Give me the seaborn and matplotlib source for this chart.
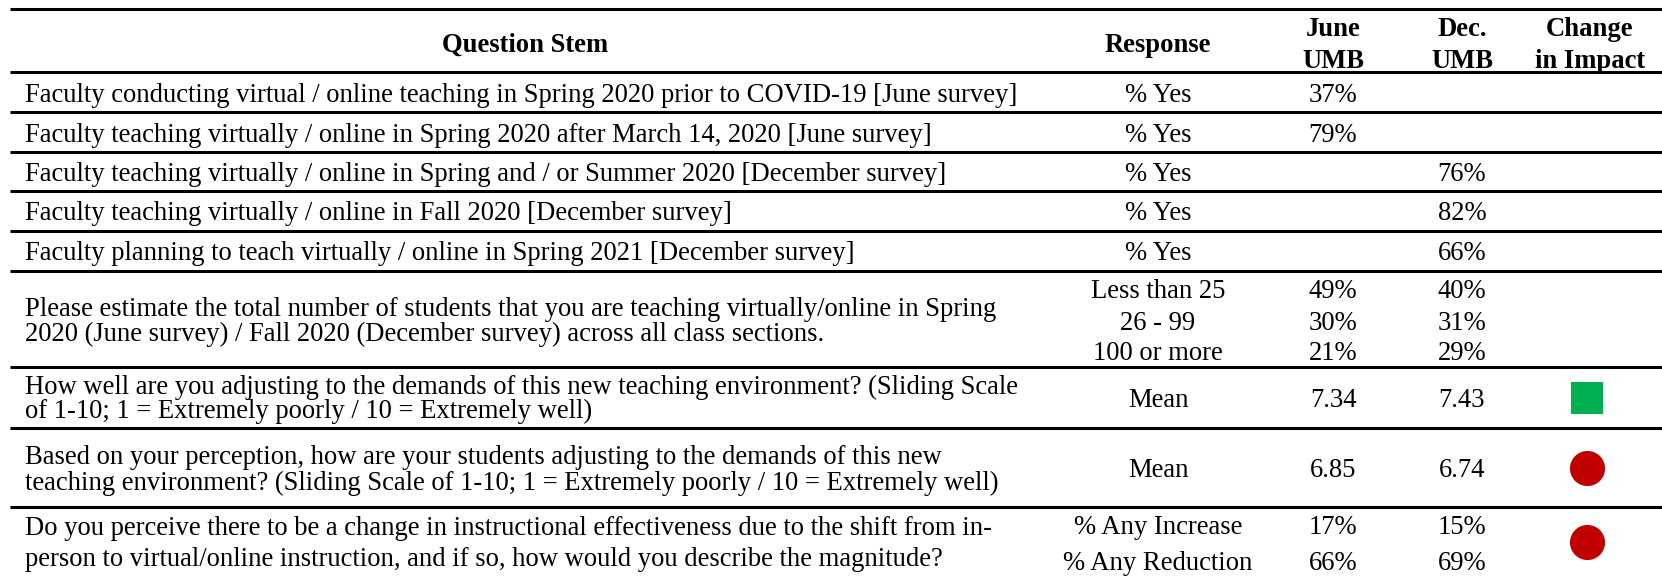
import numpy as np
import pandas as pd
import matplotlib.pyplot as plt
import seaborn as sns

# ! Datos de la tabla -------------------------------------------------------

headers = ["Question Stem", "Response", "June\nUMB", "Dec.\nUMB", "Change\nin Impact"]

questions = [
    "Faculty conducting virtual / online teaching in Spring 2020 prior to COVID-19 [June survey]",
    "Faculty teaching virtually / online in Spring 2020 after March 14, 2020 [June survey]",
    "Faculty teaching virtually / online in Spring and / or Summer 2020 [December survey]",
    "Faculty teaching virtually / online in Fall 2020 [December survey]",
    "Faculty planning to teach virtually / online in Spring 2021 [December survey]",
    "Please estimate the total number of students that you are teaching virtually/online in Spring\n"
    "2020 (June survey) / Fall 2020 (December survey) across all class sections.",
    "How well are you adjusting to the demands of this new teaching environment? (Sliding Scale\n"
    "of 1-10; 1 = Extremely poorly / 10 = Extremely well)",
    "Based on your perception, how are your students adjusting to the demands of this new\n"
    "teaching environment? (Sliding Scale of 1-10; 1 = Extremely poorly / 10 = Extremely well)",
    "Do you perceive there to be a change in instructional effectiveness due to the shift from in-\n"
    "person to virtual/online instruction, and if so, how would you describe the magnitude?",
]

responses = [
    ["% Yes"], ["% Yes"], ["% Yes"], ["% Yes"], ["% Yes"],
    ["Less than 25", "26 - 99", "100 or more"],
    ["Mean"], ["Mean"],
    ["% Any Increase", "% Any Reduction"],
]

june_umb = [
    ["37%"], ["79%"], [""], [""], [""],
    ["49%", "30%", "21%"],
    ["7.34"], ["6.85"],
    ["17%", "66%"],
]

dec_umb = [
    [""], [""], ["76%"], ["82%"], ["66%"],
    ["40%", "31%", "29%"],
    ["7.43"], ["6.74"],
    ["15%", "69%"],
]

# cambio en el impacto: "up" = mejora, "down" = empeora
change = [None, None, None, None, None, None, "up", "down", "down"]

# ! Layout ------------------------------------------------------------------

W, H = 1662, 578
row_edges = [72, 112, 152, 191, 231, 271, 367, 428, 507, 578]
row_mid = [(a + b) / 2 for a, b in zip(row_edges[:-1], row_edges[1:])]
row_mid[5] = 320
row_mid[8] = 542
x_q, x_qhead, x_resp, x_june, x_dec, x_chg = 25, 525, 1158, 1333, 1462, 1590
x_mark = 1587

resp_gap = {5: 31, 8: 36}
q_gap = {5: 25, 6: 24, 7: 25, 8: 31}
q_mid = {5: 319, 6: 396, 8: 541}

sns.set_theme(style="white")
plt.rcParams['font.family'] = ['Liberation Serif', 'DejaVu Serif']

fig = plt.figure(figsize=(W / 100, H / 100), dpi=100)
ax = fig.add_axes([0, 0, 1, 1])
ax.set_xlim(0, W)
ax.set_ylim(H, 0)
ax.axis("off")

fs = 19.2


def lines_at(x, yc, items, gap, ha="center", **kw):
    n = len(items)
    for i, t in enumerate(items):
        y = yc + (i - (n - 1) / 2) * gap
        ax.text(x, y, t, ha=ha, va="center_baseline", fontsize=fs,
                color="black", **kw)


# ? Encabezados
hy = 42
lines_at(x_qhead, hy, [headers[0]], 0, fontweight="bold")
lines_at(x_resp, hy, [headers[1]], 0, fontweight="bold")
for x, h in zip([x_june, x_dec, x_chg], headers[2:]):
    lines_at(x, hy, h.split("\n"), 32, fontweight="bold")

# ? Filas
for i, q in enumerate(questions):
    yc = row_mid[i]
    lines_at(x_q, q_mid.get(i, yc), q.split("\n"), q_gap.get(i, 0), ha="left")
    g = resp_gap.get(i, 0)
    lines_at(x_resp, yc, responses[i], g)
    lines_at(x_june, yc, june_umb[i], g)
    lines_at(x_dec, yc, dec_umb[i], g)

# ? Marcadores de cambio
marks = pd.DataFrame({
    "x": [x_mark for c in change if c is not None],
    "y": [row_mid[i] for i, c in enumerate(change) if c is not None],
    "kind": [c for c in change if c is not None],
})
up = marks[marks["kind"] == "up"]
down = marks[marks["kind"] == "down"]
sns.scatterplot(data=up, x="x", y="y", marker="s", s=560, color="#00B050",
                linewidth=0, ax=ax, legend=False)
sns.scatterplot(data=down, x="x", y="y", marker="o", s=640, color="#C00000",
                linewidth=0, ax=ax, legend=False)

# ? Lineas horizontales
ax.hlines([9] + row_edges[:-1], 10, W, color="black", linewidth=2.2)

ax.set_xlim(0, W)
ax.set_ylim(H, 0)
fig.savefig("out.png", dpi=100)
